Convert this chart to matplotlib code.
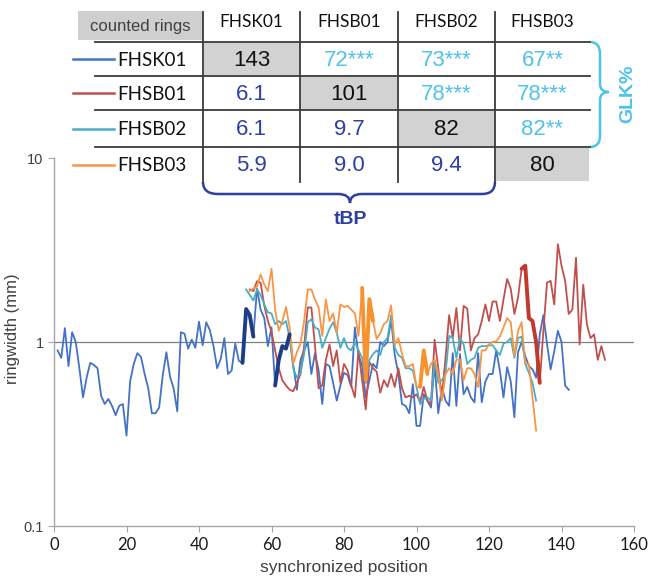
"""
Ring-width series of four samples on a synchronized position axis,
with the cross-dating table (counted rings, GLK%, tBP) drawn above.
"""

import numpy as np
import matplotlib
matplotlib.use("Agg")
import matplotlib.pyplot as plt
from matplotlib.path import Path
from matplotlib.patches import PathPatch, Rectangle

plt.rcParams['font.family'] = ['Liberation Sans', 'DejaVu Sans']

# ---- data -------------------------------------------------------------
samples = ['FHSK01', 'FHSB01', 'FHSB02', 'FHSB03']
colors = ['#4472C4', '#C0504D', '#4BACC6', '#F79646']
bold_colors = ['#1F3C88', '#C0392B', '#4BACC6', '#F7922E']

# first synchronized position of each series
start_sk01 = 1
start_sb01 = 54
start_sb02 = 53
start_sb03 = 54

# ring widths (mm)
rw_sk01 = [0.90, 0.82, 1.19, 0.74, 1.13, 1.00, 0.72, 0.50, 0.64, 0.77,
           0.75, 0.72, 0.51, 0.46, 0.49, 0.45, 0.40, 0.45, 0.46, 0.31,
           0.61, 0.76, 0.87, 0.83, 0.67, 0.56, 0.41, 0.41, 0.44, 0.66,
           0.88, 0.65, 0.56, 0.42, 1.13, 1.11, 0.92, 1.03, 0.93, 1.29,
           0.96, 1.28, 1.16, 0.95, 0.72, 0.81, 1.05, 0.67, 0.70, 0.98,
           0.79, 0.77, 1.51, 1.40, 1.07, 1.95, 1.50, 1.35, 0.95, 1.20,
           0.58, 0.80, 0.95, 0.92, 1.10, 0.75, 0.55, 0.80, 0.90, 1.00,
           0.67, 0.87, 0.70, 0.46, 0.76, 0.74, 0.60, 0.48, 0.58, 0.68,
           0.66, 0.57, 1.20, 0.85, 0.74, 0.50, 0.62, 0.76, 0.72, 1.00,
           0.95, 1.00, 1.32, 0.85, 0.67, 0.46, 0.45, 0.41, 0.59, 0.35,
           0.35, 0.52, 0.48, 0.44, 0.76, 0.41, 0.57, 0.48, 0.45, 0.87,
           0.45, 0.86, 0.52, 0.57, 0.50, 0.47, 0.87, 0.47, 0.61, 0.67,
           0.67, 0.90, 0.70, 0.50, 0.73, 0.61, 0.39, 0.88, 1.00, 0.84,
           0.74, 0.71, 0.64, 1.10, 1.40, 0.98, 0.71, 0.89, 1.15, 1.00,
           0.58, 0.55]

rw_sb01 = [1.93, 1.89, 2.14, 2.10, 1.58, 1.30, 1.14, 0.90, 0.72, 0.62,
           0.58, 0.55, 0.54, 0.60, 0.67, 0.95, 1.54, 1.54, 0.95, 0.56,
           0.58, 0.80, 0.97, 0.74, 0.90, 0.60, 0.76, 0.70, 0.58, 0.50,
           0.90, 0.62, 0.43, 0.78, 0.72, 0.69, 0.53, 0.62, 0.57, 0.67,
           0.57, 0.72, 0.56, 0.50, 0.51, 0.50, 0.52, 0.47, 0.57, 0.48,
           0.46, 1.03, 0.72, 0.50, 0.82, 1.40, 1.05, 1.53, 0.90, 1.57,
           1.52, 0.90, 1.05, 1.10, 1.30, 1.60, 1.30, 1.66, 1.66, 1.30,
           1.70, 2.20, 1.95, 1.42, 1.74, 2.50, 2.60, 1.35, 1.30, 1.00,
           0.60, 1.15, 2.10, 2.15, 1.60, 3.40, 2.60, 2.15, 1.42, 1.50,
           2.87, 0.97, 2.05, 1.25, 1.05, 1.10, 0.80, 0.95, 0.80]

rw_sb02 = [1.93, 1.80, 1.68, 1.93, 1.80, 1.60, 1.45, 1.43, 1.25, 1.30,
           1.25, 1.30, 1.05, 0.72, 0.64, 0.68, 0.86, 1.28, 1.33, 1.20,
           1.17, 0.93, 1.05, 1.18, 1.28, 1.12, 0.93, 1.05, 0.93, 0.90,
           1.00, 0.90, 0.82, 0.60, 0.80, 0.86, 0.90, 0.85, 1.00, 1.05,
           1.40, 0.93, 0.85, 0.82, 0.72, 0.72, 0.70, 0.57, 0.46, 0.49,
           0.50, 0.48, 0.79, 0.60, 0.62, 0.67, 1.08, 1.05, 0.82, 1.05,
           0.97, 0.76, 0.80, 0.82, 0.93, 0.95, 0.95, 0.96, 0.96, 0.90,
           0.85, 0.98, 1.00, 1.05, 0.82, 1.05, 1.07, 0.76, 0.68, 0.60,
           0.48]

rw_sb03 = [1.89, 1.95, 2.00, 2.33, 2.05, 1.89, 2.50, 1.50, 1.15, 1.30,
           1.55, 1.20, 0.76, 0.88, 0.98, 1.30, 1.93, 1.93, 1.70, 1.54,
           1.08, 1.70, 1.30, 1.43, 1.12, 1.60, 1.55, 1.57, 1.50, 1.43,
           1.08, 1.97, 0.62, 1.71, 1.30, 1.04, 1.12, 1.25, 1.30, 1.58,
           0.97, 1.05, 0.86, 0.74, 0.74, 0.76, 0.57, 0.57, 0.90, 0.67,
           0.76, 0.80, 0.67, 0.48, 0.67, 0.72, 0.67, 0.80, 0.80, 0.62,
           0.72, 0.72, 0.67, 0.57, 0.90, 0.90, 0.97, 1.00, 1.01, 1.07,
           1.20, 1.35, 1.28, 0.84, 1.15, 1.28, 0.76, 0.76, 0.50, 0.33]

# highlighted (bold) stretches, as synchronized position ranges
bold_sk01 = [(52, 55), (61, 65)]
bold_sb01 = [(129, 134)]
bold_sb02 = []
bold_sb03 = [(85, 88), (101, 103)]

# table contents
counted_rings = [143, 101, 82, 80]
glk = {(0, 1): '72***', (0, 2): '73***', (0, 3): '67**',
       (1, 2): '78***', (1, 3): '78***', (2, 3): '82**'}
tbp = {(1, 0): '6.1', (2, 0): '6.1', (2, 1): '9.7',
       (3, 0): '5.9', (3, 1): '9.0', (3, 2): '9.4'}

x_ticks = [0, 20, 40, 60, 80, 100, 120, 140, 160]
y_ticks = [0.1, 1, 10]
y_ticklabels = ['0.1', '1', '10']

# ---- figure -------------------------------------------------------------
W, H = 648, 578
fig = plt.figure(figsize=(W / 100, H / 100), dpi=100)

ax = fig.add_axes([54 / W, 1 - 526 / H, (634 - 54) / W, (526 - 158) / H])
ax.set_yscale('log')
ax.set_xlim(0, 160)
ax.set_ylim(0.1, 10)
ax.axhline(1, color='#7F7F7F', lw=0.9, zorder=1)

series = [(start_sk01, rw_sk01, bold_sk01),
          (start_sb01, rw_sb01, bold_sb01),
          (start_sb02, rw_sb02, bold_sb02),
          (start_sb03, rw_sb03, bold_sb03)]

for i, (start, vals, bolds) in enumerate(series):
    x = np.arange(start, start + len(vals))
    y = np.array(vals)
    ax.plot(x, y, color=colors[i], lw=1.3, zorder=2 + i * 0.1)
    for b0, b1 in bolds:
        m = (x >= b0) & (x <= b1)
        ax.plot(x[m], y[m], color=bold_colors[i], lw=2.8, zorder=3,
                solid_capstyle='round', solid_joinstyle='round')

for s in ['top', 'right']:
    ax.spines[s].set_visible(False)
for s in ['left', 'bottom']:
    ax.spines[s].set_color('#A6A6A6')
    ax.spines[s].set_linewidth(1.0)

ax.set_xticks(x_ticks)
ax.set_xticklabels([str(t) for t in x_ticks], fontsize=12, color='#1A1A1A',
                   family=['Lato', 'DejaVu Sans'])
ax.set_yticks(y_ticks)
ax.set_yticklabels(y_ticklabels, fontsize=10.5, color='#404040')
ax.yaxis.set_minor_locator(matplotlib.ticker.NullLocator())
ax.tick_params(axis='both', direction='out', length=4, color='#A6A6A6')
ax.tick_params(axis='x', pad=4)

ax.set_xlabel('synchronized position', fontsize=12.5, color='#404040')
ax.xaxis.set_label_coords(0.5, -0.092)
ax.set_ylabel('ringwidth (mm)', fontsize=12, color='#404040')
ax.yaxis.set_label_coords(-0.058, 0.535)

# ---- table overlay (pixel coordinates) -----------------------------------
ov = fig.add_axes([0, 0, 1, 1])
ov.set_xlim(0, W)
ov.set_ylim(H, 0)
ov.axis('off')

col_edges = [203, 300, 398, 495, 590]
row_edges = [42, 76, 110, 147, 182]
line_col = '#3A3A3A'
tbp_col = '#2E3FA3'
glk_col = '#4EC3E6'
label_font = ['Lato', 'DejaVu Sans']

# header box
ov.add_patch(Rectangle((78, 11), 125, 29, color='#CFCFCF', lw=0))
ov.text(140, 26, 'counted rings', ha='center', va='center',
        fontsize=12, color='#404040')

# diagonal cells
for k in range(4):
    ov.add_patch(Rectangle((col_edges[k] + 1, row_edges[k] + 1),
                           col_edges[k + 1] - col_edges[k] - 2,
                           row_edges[k + 1] - row_edges[k] - 2,
                           color='#D2D2D2', lw=0))

# grid lines
for yy in row_edges[:4]:
    ov.plot([95, 590], [yy, yy], color=line_col, lw=1.3)
for xx in col_edges[:4]:
    ov.plot([xx, xx], [12, 182], color=line_col, lw=1.3)

# column headers, row labels and legend swatches
for k, name in enumerate(samples):
    cx = (col_edges[k] + col_edges[k + 1]) / 2
    ov.text(cx, 22, name, ha='center', va='center', fontsize=12.5,
            color='#111111', family=label_font)
    cy = (row_edges[k] + row_edges[k + 1]) / 2
    ov.plot([73, 114], [cy, cy], color=colors[k], lw=1.8)
    ov.text(117, cy + 1, name, ha='left', va='center', fontsize=13.5,
            color='#111111', family=label_font)

# cell values
for r in range(4):
    for c in range(4):
        cx = (col_edges[c] + col_edges[c + 1]) / 2
        cy = (row_edges[r] + row_edges[r + 1]) / 2
        if r == c:
            txt, col = str(counted_rings[r]), '#111111'
        elif c > r:
            txt, col = glk[(r, c)], glk_col
        else:
            txt, col = tbp[(r, c)], tbp_col
        ov.text(cx, cy + 1, txt, ha='center', va='center', fontsize=16,
                color=col)

# braces
def brace(pts, codes, color):
    ov.add_patch(PathPatch(Path(pts, codes), fill=False, ec=color, lw=1.8))

C3, L, M = Path.CURVE3, Path.LINETO, Path.MOVETO
# GLK% brace (right of the upper triangle)
brace([(590, 42), (600, 42), (600, 54), (600, 84), (600, 92), (609, 92),
       (600, 92), (600, 100), (600, 136), (600, 147), (590, 147)],
      [M, C3, C3, L, C3, C3, C3, C3, L, C3, C3], glk_col)
ov.text(628, 94, 'GLK%', rotation=90, ha='center', va='center',
        fontsize=14, fontweight='bold', color=glk_col)

# tBP brace (below the lower triangle)
brace([(203, 182), (203, 194), (218, 194), (338, 194), (350, 194), (350, 203),
       (350, 194), (362, 194), (482, 194), (495, 194), (495, 182)],
      [M, C3, C3, L, C3, C3, C3, C3, L, C3, C3], tbp_col)
ov.text(350, 219, 'tBP', ha='center', va='center', fontsize=14,
        fontweight='bold', color=tbp_col)

fig.savefig('out.png', dpi=100)
plt.close(fig)
